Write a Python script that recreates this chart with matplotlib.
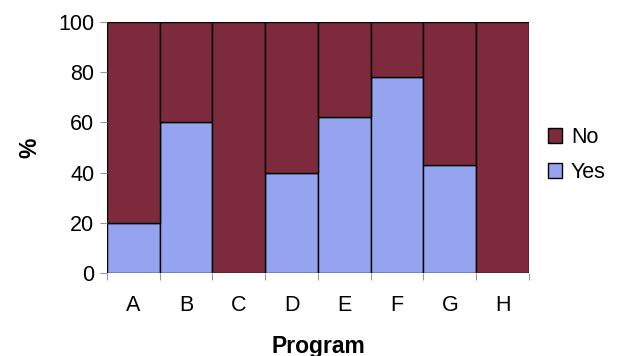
import numpy as np
import matplotlib.pyplot as plt
from matplotlib.ticker import FixedLocator

programs = ["A", "B", "C", "D", "E", "F", "G", "H"]
yes_pct = [20, 60, 0, 40, 62, 78, 43, 0]
no_pct = [100 - v for v in yes_pct]

plt.rcParams['font.family'] = ['Liberation Sans', 'DejaVu Sans']

fig = plt.figure(figsize=(6.18, 3.56), dpi=100)
ax = fig.add_axes([0.173, 0.233, 0.683, 0.705])

x = np.arange(len(programs))
yes_col = "#95A4EE"
no_col = "#7D2A3D"
b_yes = ax.bar(x, yes_pct, width=1.0, color=yes_col, edgecolor="black", linewidth=1.0, label="Yes")
b_no = ax.bar(x, no_pct, width=1.0, bottom=yes_pct, color=no_col, edgecolor="black", linewidth=1.0, label="No")

ax.set_xlim(-0.5, len(programs) - 0.5)
ax.set_ylim(0, 100)
ax.set_yticks([0, 20, 40, 60, 80, 100])

# category labels centred, tick marks on the bar boundaries
ax.set_xticks(x)
ax.set_xticklabels(programs)
ax.tick_params(axis="x", which="major", length=0, pad=16, labelsize=15.5)
ax.xaxis.set_minor_locator(FixedLocator(np.arange(-0.5, len(programs), 1.0)))
ax.tick_params(axis="x", which="minor", length=5, color="#999999", width=0.8)
ax.tick_params(axis="y", length=5, color="#999999", width=0.8, pad=4, labelsize=15.5)

for s in ax.spines.values():
    s.set_visible(False)

ax.set_xlabel("Program", fontsize=16.5, fontweight="bold")
ax.xaxis.set_label_coords(0.5, -0.245)
ax.set_ylabel("%", fontsize=16.5, fontweight="bold", labelpad=12)

handles = [b_no, b_yes]
ax.legend(handles, ["No", "Yes"], loc="center left", bbox_to_anchor=(1.0, 0.47),
          frameon=False, fontsize=15.5, handlelength=0.65, handleheight=0.65,
          handletextpad=0.4, labelspacing=0.65)

fig.savefig("out.png", dpi=100)
